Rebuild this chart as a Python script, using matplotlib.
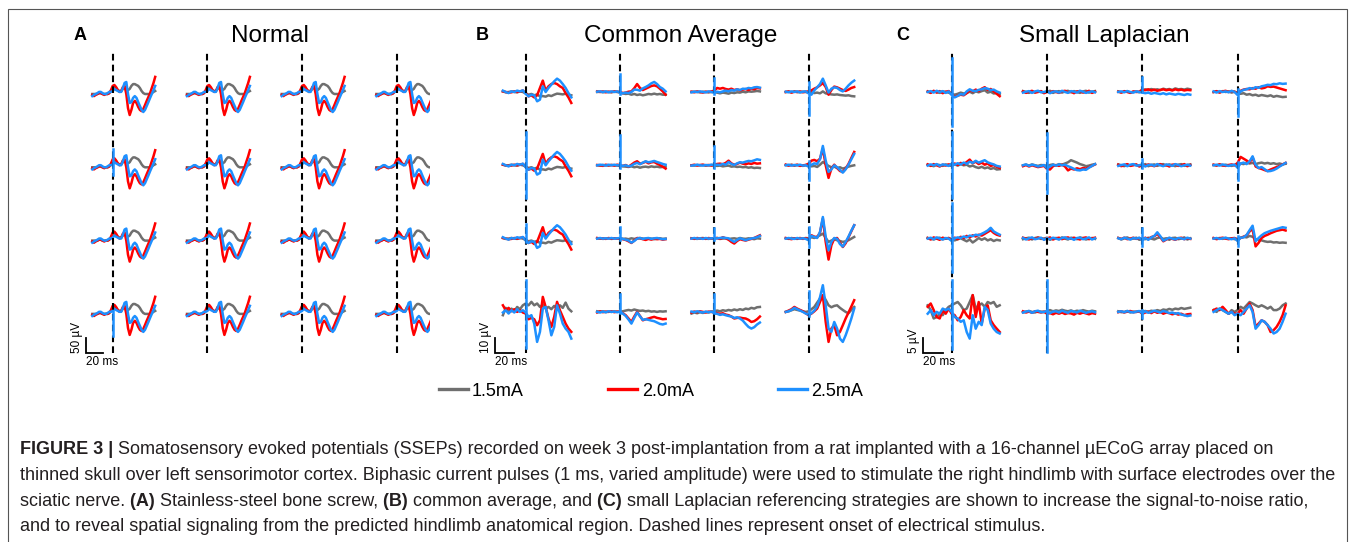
import numpy as np
import matplotlib
matplotlib.use('Agg')
import matplotlib.pyplot as plt
from matplotlib.patches import Rectangle

plt.rcParams['font.family'] = ['Liberation Sans', 'DejaVu Sans']

W, H = 1355, 542
GRAY, RED, BLUE = '#6f6f6f', '#ff0000', '#1e90ff'
COLORS = (GRAY, RED, BLUE)
currents = ['1.5mA', '2.0mA', '2.5mA']

# time from stimulus onset (ms)
t_a = np.arange(-24, 51, 2)
t_bc = np.arange(-24, 49, 3)

# ---- A: Normal (uV), same waveform on all 16 channels
a_gray = [0, 0, 0, 0, 3, 3, 0, 0, 0, 0, 3, 10, 20, 23, 20, 13, 10, 10, 17, 20,
          17, 13, 17, 27, 33, 33, 30, 27, 20, 10, 3, 0, 0, 0, 0, 3, 7, 10]
a_red = [-3, -7, -3, 0, 3, 3, 0, -3, 0, 0, 3, 13, 27, 30, 23, 13, 7, 10, 23, 27,
         0, -47, -70, -53, -30, -23, -30, -43, -53, -57, -50, -37, -23, -10, 3, 20, 37, 57]
a_blue = [-7, -3, 0, 3, 7, 7, 3, 0, 0, 3, 7, 7, 10, 17, 13, 10, 7, 7, 20, 37,
          40, 0, -30, -27, -13, -7, -13, -27, -40, -53, -60, -53, -40, -27, -13, 0, 13, 27]

# ---- B: Common Average (uV)
b11_gray = [0.4, -0.2, 0, 0.4, 0, -0.2, 0.4, 0, -0.9, -1.8, -1.3, -2.2, -1.6, -2.9, -2.7, -3.1, -2.2, -2.7, -1.8, -1.1, -1.3, -1.6, -1.1, -1.8, -2.2]
b11_red = [0.4, 0, -0.4, -0.2, 0.4, 0, 0.4, 0.9, -0.7, -2.9, -2.2, -3.6, -2.2, 2.7, 7.6, 0.9, 3.8, 5.3, 6.0, 5.3, 3.8, 2.7, -0.7, -3.6, -7.3]
b11_blue = [0.9, 0, -0.7, 0.4, 0, 0.9, 0.4, 1.1, -1.3, -2.9, -1.8, -2.2, -6.2, -5.1, 3.8, 0, 2.7, 4.9, 7.1, 8.9, 7.6, 5.3, 2.7, -0.7, -3.6]
b12_gray = [0, 0.2, -0.2, 0.2, 0, -0.2, 0.2, 0, -0.4, -0.9, -1.3, -1.1, -1.8, -1.3, -2.0, -1.6, -2.2, -1.8, -1.3, -1.6, -1.1, -1.6, -1.3, -1.8, -1.8]
b12_red = [0.4, 0, 0.4, -0.2, 0.2, 0, 0.4, 0.2, 0, -0.7, -0.4, 0.2, 0.4, 2.5, 5.3, 2.7, 1.3, 2.2, 3.1, 4.0, 4.4, 3.8, 2.2, 0.4, -1.8]
b12_blue = [0.2, 0.4, 0, 0.4, -0.2, 0.4, 0, 0.4, -0.4, -0.9, -0.4, -0.7, 0, 1.6, 1.5, 0.9, 2.4, 3.3, 4.4, 5.8, 6.7, 5.3, 3.3, 2.2, 0.4]
b13_gray = [0, 0.2, 0, -0.2, 0.2, 0, -0.2, 0, -0.2, -0.4, -0.9, -0.4, -0.7, -1.1, -0.4, -0.7, -0.2, -0.4, 0.2, -0.2, 0.4, 0.2, 0.4, 0.7, 0.4]
b13_red = [0.2, -0.2, 0.4, 0, -0.4, 0.2, 0, 0.4, 0.9, 2.7, 2.2, 2.7, 2.0, 1.6, 2.2, 1.3, 1.8, 1.1, 1.6, 2.0, 1.3, 2.2, 1.8, 2.7, 2.4]
b13_blue = [-0.2, 0.2, 0, 0.4, 0, -0.2, 0.4, 0, -0.4, 0.2, -0.2, 0.4, 0.9, 0.4, 1.3, 0.9, 1.8, 1.3, 2.2, 2.0, 2.7, 2.4, 3.1, 3.3, 2.9]
b14_gray = [0, 0.2, -0.2, 0.4, 0, -0.2, 0.2, 0, -0.4, -0.2, -0.7, -0.4, -0.9, 0.4, -0.9, -1.3, -1.6, -1.8, -1.6, -2.0, -2.2, -2.4, -2.2, -2.7, -2.9]
b14_red = [0, 0.4, -0.4, 0.2, 0, 0.4, -0.2, 0.2, 0.4, 1.1, 2.2, 3.1, 4.4, 6.0, 3.3, -1.8, 1.3, 3.6, 3.1, 2.2, 1.3, 0.7, 1.6, 2.7, 3.3]
b14_blue = [0.2, -0.2, 0.4, 0, 0.4, -0.2, 0.2, 0.4, -0.9, -1.8, 1.1, 3.1, 5.3, 8.9, 4.4, -0.4, 2.2, 3.1, 2.7, 1.3, 0.4, 2.2, 4.4, 6.2, 7.6]
b22_gray = [0, -0.2, 0.2, 0, -0.2, 0.2, 0, -0.2, -0.4, -0.7, -0.9, -1.1, -0.7, -1.3, -0.9, -1.6, -1.1, -0.9, -1.3, -0.7, -1.1, -0.9, -1.3, -1.1, -0.9]
b22_red = [0.2, 0, -0.4, 0.4, 0, 0.2, -0.2, 0.4, 0, -0.4, 0.2, -0.9, 0.4, 1.8, 2.7, 1.1, 1.6, 2.4, 1.3, 2.0, 2.2, 1.1, 0.2, -0.9, -2.2]
b22_blue = [0, 0.4, 0.2, -0.2, 0.4, 0, 0.4, 0, 0.2, -0.4, 0, -0.7, -0.2, 0.9, 1.6, 0.7, 1.8, 2.7, 2.0, 2.4, 2.9, 2.2, 1.6, 0.9, 0.4]
b23_gray = [0, -0.2, 0.2, 0, 0.2, -0.2, 0, 0.2, -0.2, -0.4, -0.2, -0.7, -0.4, -0.2, -0.9, -0.7, -1.1, -0.9, -1.3, -1.1, -1.6, -1.3, -1.8, -1.6, -1.8]
b23_red = [0, 0.4, -0.2, 0.2, 0.4, 0, 0.2, -0.2, 0.4, 0.9, 1.1, 0.7, 1.6, 3.1, 1.3, 0.4, 0.9, 1.8, 1.1, 0.7, 1.3, 0.9, 1.6, 1.1, 1.3]
b23_blue = [-0.2, 0, 0.4, 0, -0.2, 0.2, 0, 0.4, 0.2, 0.4, 0.2, 0.9, 0.4, 2.2, 0.9, 0.2, 1.3, 2.0, 1.8, 2.4, 2.9, 2.7, 3.3, 4.0, 3.6]
b24_gray = [0.2, 0, 0.4, -0.2, 0.2, 0, -0.4, 0.2, 0, -0.7, -0.4, -1.1, 0.4, 2.2, 0.9, -0.4, -1.3, -0.9, -1.8, -1.3, -2.2, -1.6, -0.9, -0.4, 0]
b24_red = [0.4, -0.2, 0.2, 0, 0.4, -0.4, 0, 0.2, 1.1, 3.1, 3.6, 2.7, 4.4, 11.1, 0, -8.4, -2.2, 0.4, -1.8, -3.8, -4.4, -2.2, 0.9, 4.9, 8.9]
b24_blue = [0, 0.4, -0.2, 0.2, 0, 0.4, -0.2, 0, -0.9, 0.4, 1.3, 0.9, 4.0, 12.9, 3.1, -4.4, -2.7, 0, -1.3, -3.1, -4.9, -2.7, 0.4, 4.0, 7.6]
b_flat1 = [0, 0.2, -0.2, 0, 0.2, -0.2, 0, 0.2, 0, -0.2, 0, -0.4, 0.2, -0.2, 0, 0.4, 0, -0.2, 0.2, 0, -0.4, 0, 0.2, -0.2, 0]
b_flat2 = [0.2, 0, -0.2, 0.2, 0.4, 0, -0.2, 0.2, 0, 0.4, -0.2, 0, 0.2, -0.4, 0, 0.2, -0.2, 0.4, 0, -0.2, 0.2, 0, -0.4, 0.2, 0]
b32_red = [0.4, 0, 0.2, -0.2, 0.4, 0, 0.2, 0, 0.2, -0.4, -0.9, -1.8, -2.9, -1.3, 0.4, 0.2, -0.4, -0.9, -0.2, -0.7, 0, -0.4, -0.2, -0.7, -0.4]
b32_blue = [0, 0.4, 0, 0.2, 0, 0.4, 0, 0.2, 0.4, -0.2, -0.7, -1.3, -2.7, -1.6, 0, 0.4, -0.2, 0.2, 0.4, -0.2, 0.2, 0.4, 0, -0.4, -0.2]
b33_red = [0.2, -0.2, 0.4, 0, 0.2, -0.2, 0.4, 0, 0.2, 0.4, -0.2, 0.9, 0.2, -0.7, -2.2, -3.3, -1.6, -0.4, -0.9, -1.3, -0.7, -0.2, 0.4, 1.3, 2.2]
b33_blue = [0, 0.4, 0, 0.2, -0.2, 0.4, 0, 0.2, 0, 0.2, 0.4, 0.7, 0.4, 0.2, -1.1, -2.2, -0.9, 0.2, -0.4, -1.1, -0.4, 0, 0.4, 0.9, 1.8]
b34_gray = [0.2, -0.2, 0.4, 0, -0.2, 0.2, 0, 0.4, 0.2, 0.9, 0.4, 1.3, 2.2, 3.3, 0.4, -2.2, -1.3, -0.4, -1.1, -1.6, -2.2, -1.8, -1.1, 0, 1.1]
b34_red = [0.4, 0, -0.4, 0.2, 0, 0.4, -0.2, 0.2, -0.4, 2.2, 1.3, 0.9, 4.0, 13.3, -2.2, -14.0, -4.4, 0, 0.4, -2.7, -5.6, -3.1, 0.9, 4.9, 8.9]
b34_blue = [0, 0.4, 0, -0.2, 0.4, 0, 0.2, -0.2, -1.1, 1.8, 1.1, 0.4, 4.4, 14.4, 1.3, -7.8, -2.2, 0.4, -0.2, -3.6, -5.3, -2.2, 1.3, 5.3, 8.9]
b41_gray = [-2.2, 2.7, 0, 2.2, 0.4, 3.3, 1.8, 4.4, 5.6, 4.4, 6.7, 4.4, 5.6, 3.3, 4.9, 2.2, 3.3, 1.8, 4.0, 2.2, 4.4, 2.7, 6.2, 2.2, 0.4]
b41_red = [4.4, 1.1, 2.7, 0.4, 1.8, 0, 1.1, -0.4, -1.1, -4.9, -4.0, -4.9, -8.9, -5.6, 10.0, 3.3, -4.4, -10.0, -3.3, 6.7, 1.1, -3.3, -7.8, -11.1, -13.3]
b41_blue = [-0.4, 1.1, -1.1, 1.1, -0.4, 1.8, 0, 1.1, -0.4, -3.3, -2.2, -7.8, -20.0, -13.3, 2.2, 3.3, -5.6, -15.6, -10.0, 4.4, -1.1, -7.8, -11.1, -13.3, -17.8]
b42_gray = [0.4, 0, 0.4, -0.2, 0.2, 0, 0.4, 0, 0.2, 0.4, 0.9, 1.3, 0.9, 1.6, 1.1, 0.7, 0.9, 0.4, 0.7, 0.2, 0.4, 0, 0.4, 0.2, 0.4]
b42_red = [-0.4, 0.4, -0.2, 0.2, 0, 0.4, -0.2, 0.2, 0, -0.9, -2.2, -4.4, -6.7, -3.1, 0, -2.7, -5.6, -4.9, -4.4, -3.8, -3.3, -4.0, -4.4, -4.9, -4.7]
b42_blue = [0, -0.4, 0.2, -0.2, 0.4, 0, 0.2, -0.2, 0.2, -1.1, -2.7, -5.1, -7.8, -4.0, -0.4, -2.9, -5.3, -4.9, -5.3, -5.8, -6.2, -7.1, -8.0, -8.4, -7.8]
b43_gray = [-1.1, -0.4, -0.9, -0.2, -0.7, 0, -0.4, 0.2, 0.4, 0.9, 0.4, 1.1, 0.7, 1.3, 0.9, 1.6, 1.1, 1.8, 1.3, 2.2, 1.8, 2.7, 2.2, 3.1, 3.3]
b43_red = [-0.4, 0.2, -0.2, 0.4, 0, -0.4, 0.2, 0, -0.4, -0.9, -1.3, -0.9, -1.8, -2.2, -3.1, -4.4, -4.0, -3.8, -4.2, -4.4, -5.3, -6.7, -6.2, -4.9, -3.1]
b43_blue = [0.2, -0.2, 0.4, 0, -0.4, 0.2, -0.2, 0.2, -0.9, -1.3, -2.0, -1.6, -2.2, -2.7, -3.1, -4.0, -3.6, -4.4, -5.8, -8.0, -10.0, -11.1, -10.2, -8.4, -7.1]
b44_gray = [0, 0.4, 1.1, 1.8, 1.3, 0.9, 0.4, 0, 0.4, 1.8, 3.3, 6.2, 8.9, 11.1, 8.0, 4.4, 3.1, 4.0, 4.4, 2.7, 1.3, 0, -0.9, 1.3, 3.3]
b44_red = [0, 0.9, 1.8, 3.3, 2.2, 1.3, 0.4, -0.9, -2.2, -1.1, 0.4, 2.2, 6.7, 11.1, -6.7, -20.0, -11.1, -8.9, -15.6, -13.3, -8.9, -4.4, -0.4, 3.6, 7.8]
b44_blue = [0, 0.4, 1.3, 2.7, 1.8, 0.9, 0, -1.1, -1.8, -0.9, 0.9, 3.6, 9.8, 17.8, 4.4, -11.1, -13.3, -6.7, -11.1, -17.8, -20.0, -15.6, -10.2, -4.4, 2.2]

# ---- C: Small Laplacian (uV)
c_flat1 = [0.2, -0.3, 0.1, 0.4, -0.2, 0, 0.3, -0.4, 0.1, -0.2, 0.3, 0, -0.3, 0.2, 0.4, -0.1, 0.1, -0.4, 0.2, 0.3, -0.2, 0, 0.4, -0.3, 0.1]
c_flat2 = [-0.2, 0.1, 0.3, -0.3, 0.2, 0.4, -0.1, 0, 0.3, -0.4, 0.1, 0.2, -0.2, 0.4, 0, -0.3, 0.3, 0.1, -0.2, 0.4, 0.1, -0.3, 0, 0.2, -0.1]
c_flat3 = [0.3, 0, -0.3, 0.2, -0.1, 0.3, 0.1, -0.2, 0, 0.4, -0.3, 0.1, 0.3, -0.2, 0.2, 0.4, -0.1, 0.3, 0, -0.3, 0.2, 0.4, -0.2, 0.1, 0.3]
c11_gray = [0.1, -0.2, 0.3, 0, -0.3, 0.2, 0, -0.2, -0.6, -0.9, -0.6, -0.2, -0.5, -0.3, 0.1, -0.4, 0.2, -0.1, 0.3, 0.6, -0.2, 0.1, -0.5, -0.3, -0.7]
c11_red = [0.2, -0.3, 0.4, -0.2, 0.3, -0.4, 0.1, 0.3, -0.8, -1.6, -1.2, -0.9, -1.1, -0.4, 0.6, 0.2, 0.8, 0.3, 1.1, 1.6, 0.7, 1.0, 0.2, -0.6, -1.4]
c11_blue = [0, 0.3, -0.2, 0.4, 0, 0.3, -0.3, 0.2, -1.0, -1.8, -1.3, -0.7, -0.9, 0.2, 0.9, 0.4, 0.3, 0.7, 0.9, 1.3, 1.1, 0.6, 0.8, 0.2, -0.2]
c13_gray = [0.2, -0.1, 0.1, 0.3, -0.2, 0, 0.2, -0.1, 0.4, 0.9, 0.6, 1.0, 0.7, 0.9, 0.6, 1.1, 0.8, 1.0, 0.7, 1.2, 0.9, 1.0, 0.8, 1.1, 0.9]
c13_red = [0.1, -0.2, 0.3, 0, -0.3, 0.2, 0, 0.1, 0.8, 0.6, 0.9, 0.5, 0.8, 0.4, 0.7, 0.9, 0.6, 0.8, 0.5, 0.9, 0.6, 0.8, 0.5, 0.7, 0.6]
c13_blue = [0, 0.2, -0.1, 0.3, 0, -0.2, 0.2, 0, -0.2, -0.4, -0.2, -0.6, -0.3, -0.5, -0.7, -0.4, -0.8, -0.5, -0.7, -0.9, -0.6, -0.8, -1.0, -0.7, -0.9]
c14_gray = [0, 0.2, -0.1, 0.3, 0, 0.2, -0.2, 0.1, -0.3, -0.6, -0.4, -0.9, -0.7, -1.1, -0.9, -1.3, -1.0, -1.2, -1.4, -1.1, -1.6, -1.3, -1.5, -1.7, -1.6]
c14_red = [0, 0.3, -0.2, 0.2, 0.4, 0, 0.3, 0.1, -0.6, 0.4, 0.8, 1.0, 0.9, 1.3, 1.1, 1.6, 1.2, 1.4, 1.9, 1.7, 1.8, 1.5, 1.2, 0.9, 0.6]
c14_blue = [0.2, -0.2, 0.3, 0, 0.2, -0.1, 0.4, 0, -1.0, 0.2, 0.7, 0.9, 1.3, 1.1, 1.6, 1.4, 1.9, 2.1, 2.4, 2.3, 2.7, 2.6, 2.9, 2.7, 2.8]
c21_gray = [0.2, 0, -0.3, 0.2, 0.1, -0.2, 0.3, 0, -0.2, 0.3, -0.1, 0.4, 0, 0.2, -0.4, -0.1, -0.6, -0.9, -0.5, -1.0, -0.7, -1.2, -0.9, -1.4, -1.3]
c21_red = [0.3, -0.2, 0.4, 0, -0.4, 0.2, -0.1, 0.3, 0.2, 0.6, 0.1, 0.8, 0.3, 1.1, 1.9, 0.7, 1.2, 0.4, 0.9, 0.2, 0.6, -0.2, 0.1, -0.5, -0.9]
c21_blue = [-0.1, 0.3, 0, 0.4, -0.2, 0.3, 0.1, -0.2, 0.5, 0.2, 0.7, 0.3, 0.9, 0.5, 1.2, 0.8, 1.5, 0.9, 1.3, 1.7, 1.0, 0.6, 0.3, -0.2, -0.4]
c22_gray = [0, 0.2, -0.1, 0.3, 0, -0.2, 0.1, 0, -0.2, 0.1, 0.3, -0.1, 0.4, 0.2, 0.6, 1.0, 1.7, 1.3, 0.9, 0.4, 0.1, -0.3, -0.1, 0.2, 0.4]
c22_red = [-0.3, 0.1, -0.4, 0, -0.3, -0.6, -0.4, -0.2, -1.2, -1.4, -0.3, 0.1, -0.2, 0.2, -0.4, -1.7, -1.1, -1.4, -1.0, -1.3, -0.9, -1.1, -0.6, -0.2, 0.3]
c22_blue = [0, 0.3, -0.2, 0.2, 0, -0.4, -0.2, 0.1, -1.0, -0.4, 0.2, -0.1, 0.3, 0, 0.2, -0.3, -0.7, -1.2, -1.6, -1.7, -1.4, -1.5, -0.8, -0.2, 0.4]
c24_gray = [0.1, 0, 0.3, -0.1, 0.2, 0, -0.2, 0.1, 0.3, 0.6, 0.4, 0.9, 0.6, 0.8, 0.4, 0.7, 0.9, 0.6, 0.8, 0.5, 0.7, 0.4, 0.6, 0.3, 0.5]
c24_red = [0.2, -0.1, 0.3, 0, -0.2, 0.1, 0.3, 0, 0.8, 2.8, 2.2, 1.6, 0.9, 2.7, -0.4, -0.9, -1.2, -1.6, -1.9, -1.4, -1.0, -0.6, -0.2, 0.3, 0.8]
c24_blue = [0, 0.2, -0.1, 0.3, 0, -0.2, 0.1, 0.2, -0.8, 0.6, 0.9, 0.4, 1.3, 3.0, 0.2, -0.9, -0.6, -1.3, -2.0, -1.9, -1.6, -1.1, -0.4, 0.2, 0.8]
c31_gray = [0.2, 0, -0.3, 0.1, 0.3, -0.2, 0, 0.2, -0.3, -0.6, -0.2, 0.1, -0.4, -0.9, -0.3, -1.3, -0.6, 0.2, -0.4, 0.1, -0.6, -0.2, -0.8, -0.4, -0.6]
c31_red = [0.2, -0.3, 0.4, 0, -0.4, 0.3, 0, 0.2, -0.4, 0.3, -0.2, 0.6, 0.2, 0.9, 0.4, 1.1, 0.7, 1.3, 1.0, 1.6, 2.2, 2.8, 1.9, 1.3, 1.0]
c31_blue = [0, 0.3, -0.2, 0.4, 0, -0.3, 0.2, 0, -0.8, 0.1, 0.4, 0.2, 0.7, 0.4, 1.0, 0.8, 1.3, 1.1, 1.6, 2.1, 2.7, 3.6, 2.4, 1.8, 1.3]
c33_red = [0.2, -0.1, 0.3, -0.2, 0, 0.3, -0.1, 0.2, -0.4, 0.3, -0.2, 0.5, 0.8, 1.6, 0.5, -0.9, -0.3, 0.2, -0.1, -0.4, 0.1, 0.3, -0.2, 0.1, -0.1]
c33_blue = [0.1, -0.2, 0.3, 0, -0.3, 0.2, 0, 0.3, -0.6, 0.2, -0.4, 0.4, 0.9, 2.1, 0.8, -0.7, -0.2, 0.3, 0, -0.3, 0.2, 0.1, -0.2, 0.3, 0]
c34_gray = [0.1, 0, 0.2, -0.1, 0.2, 0, 0.1, -0.2, 0, 0.3, 0.6, 0.4, 0.9, 0.6, -0.2, -0.4, -0.6, -0.9, -1.1, -1.0, -1.3, -1.2, -1.4, -1.3, -1.4]
c34_red = [0.2, -0.2, 0.1, 0.3, 0, -0.2, 0.1, 0.2, -0.4, 0.2, 0.6, 1.1, 2.4, 3.2, -2.6, -1.4, 0.2, 0.9, 1.3, 1.8, 2.2, 2.6, 2.8, 3.0, 2.7]
c34_blue = [0, 0.2, -0.1, 0.1, 0.3, 0, -0.2, 0.1, -0.8, 0.3, 0.4, 1.2, 2.8, 4.3, -0.9, 0.2, 1.1, 1.8, 2.2, 2.6, 2.9, 3.2, 3.5, 3.8, 3.6]
c41_gray = [2.2, 0.6, -2.2, -1.7, -0.6, -1.1, 0.6, 1.7, 2.2, 2.8, 3.3, 2.2, 0.6, 1.1, 3.3, 5.6, 1.1, 2.2, 2.8, 1.7, 3.3, 2.8, 3.3, 1.7, 2.2]
c41_red = [1.7, 2.8, 0.6, -1.7, -2.2, 0.6, -0.6, 1.1, -0.6, -1.1, -2.8, -1.7, 0.6, -1.1, -2.2, 5.6, -1.7, 3.3, -3.9, 1.1, 2.2, -2.8, -4.4, -5.6, -6.7]
c41_blue = [-0.6, 0.6, -1.1, 0, -0.6, 1.1, 0.6, 1.1, 0, -1.7, -2.2, -3.3, -2.8, -6.7, -8.9, -1.1, -5.6, -3.3, -4.4, 1.7, 0.6, -3.9, -5.6, -6.7, -7.2]
c42_gray = [-0.2, 0.1, 0.3, 0, -0.2, 0.2, 0.1, -0.1, 0.3, 0.6, 0.2, 0.5, 0.3, 0.7, 0.4, 0.2, 0.5, 0.1, 0.4, 0.2, 0.6, 0.3, 0.1, 0.4, 0.2]
c42_red = [0.2, -0.2, 0.1, -0.3, 0.2, 0, -0.2, 0.1, -0.6, -0.4, -0.8, -0.3, -0.6, -0.2, -0.7, -0.4, -0.5, -0.9, -0.3, -0.6, -0.2, -0.5, -0.8, -0.4, -0.6]
c43_gray = [0.2, -0.1, 0, 0.3, -0.2, 0.1, 0, 0.2, 0.1, 0.3, 0, 0.4, 0.2, 0.6, 0.3, 0.8, 0.6, 1.0, 0.7, 1.1, 0.9, 1.3, 1.0, 1.2, 1.4]
c43_red = [-0.1, 0.2, -0.2, 0.1, 0.3, -0.1, 0, 0.2, -0.6, -0.2, 0.1, -0.4, 0.2, -0.3, 0, -0.6, -0.2, -0.4, -0.8, -0.5, -0.9, -0.6, -1.1, -0.8, -0.7]
c43_blue = [0, 0.2, -0.1, 0.3, 0, -0.2, 0.1, 0.3, -0.4, 0.2, -0.3, 0, 0.4, 0.1, -0.2, 0.3, 0, -0.4, -0.2, -0.6, -0.4, -0.9, -1.1, -1.4, -1.2]
c44_gray = [0.6, 0, 1.1, 0.6, 0, -0.6, 0.6, 0, 0.6, 1.7, 1.1, 2.2, 3.3, 2.8, 2.2, 1.7, 2.2, 1.7, 1.1, 1.7, 0.6, 0.6, 1.1, 2.2, 2.8]
c44_red = [0.6, 1.1, 0.6, 1.7, 0.6, -0.6, 0, -0.6, -0.6, 0.6, -0.6, 1.1, 2.8, 0.6, -5.0, -3.9, -2.8, -3.3, -4.4, -6.7, -6.1, -5.0, -3.3, -1.1, 2.2]
c44_blue = [0, 0.6, 1.1, 0.6, 0, -0.6, 0, -1.1, -0.6, -1.1, 0, 1.1, 2.2, 0, -5.6, -4.4, -2.8, -3.3, -4.4, -5.6, -7.2, -6.7, -5.6, -3.3, -0.6]

# (row, col) -> (1.5mA, 2.0mA, 2.5mA)
a_cells = {(r, c): (a_gray, a_red, a_blue) for r in range(4) for c in range(4)}
b_cells = {
    (0, 0): (b11_gray, b11_red, b11_blue), (0, 1): (b12_gray, b12_red, b12_blue),
    (0, 2): (b13_gray, b13_red, b13_blue), (0, 3): (b14_gray, b14_red, b14_blue),
    (1, 0): (b11_gray, b11_red, b11_blue), (1, 1): (b22_gray, b22_red, b22_blue),
    (1, 2): (b23_gray, b23_red, b23_blue), (1, 3): (b24_gray, b24_red, b24_blue),
    (2, 0): (b11_gray, b11_red, b11_blue), (2, 1): (b_flat1, b32_red, b32_blue),
    (2, 2): (b_flat2, b33_red, b33_blue), (2, 3): (b34_gray, b34_red, b34_blue),
    (3, 0): (b41_gray, b41_red, b41_blue), (3, 1): (b42_gray, b42_red, b42_blue),
    (3, 2): (b43_gray, b43_red, b43_blue), (3, 3): (b44_gray, b44_red, b44_blue),
}
c_cells = {
    (0, 0): (c11_gray, c11_red, c11_blue), (0, 1): (c_flat3, c_flat1, c_flat2),
    (0, 2): (c13_gray, c13_red, c13_blue), (0, 3): (c14_gray, c14_red, c14_blue),
    (1, 0): (c21_gray, c21_red, c21_blue), (1, 1): (c22_gray, c22_red, c22_blue),
    (1, 2): (c_flat3, c_flat1, c_flat2), (1, 3): (c24_gray, c24_red, c24_blue),
    (2, 0): (c31_gray, c31_red, c31_blue), (2, 1): (c_flat2, c_flat3, c_flat1),
    (2, 2): (c_flat1, c33_red, c33_blue), (2, 3): (c34_gray, c34_red, c34_blue),
    (3, 0): (c41_gray, c41_red, c41_blue), (3, 1): (c42_gray, c42_red, c_flat2),
    (3, 2): (c43_gray, c43_red, c43_blue), (3, 3): (c44_gray, c44_red, c44_blue),
}

# stimulus artifacts at t=0: (low, high) in uV
a_spikes = {(1, 0): (-27, 60), (3, 0): (-73, 10)}
b_spikes = {(0, 1): (-1, 12), (0, 2): (-1, 9.5), (0, 3): (-15, 7), (1, 0): (-22, 22),
            (1, 1): (-2, 20), (1, 2): (-2, 13), (1, 3): (-10, 3), (2, 0): (-2, 10),
            (2, 1): (-1, 8), (2, 2): (-1, 7), (2, 3): (-5.6, 7.8), (3, 0): (-24, 21),
            (3, 1): (-1, 12), (3, 2): (-1, 12), (3, 3): (-3, 14)}
c_spikes = {(0, 0): (-11.4, 11.3), (0, 2): (0, 5), (0, 3): (-8, 1), (1, 0): (-11, 11),
            (1, 1): (-9.2, 10.8), (1, 2): (-1, 2), (1, 3): (-4.8, 1), (2, 0): (-11, 12),
            (2, 2): (-2.6, 3.6), (2, 3): (-2.5, 1), (3, 0): (-12.2, 10.6),
            (3, 1): (-13.3, 10.6), (3, 2): (-2, 0.5)}

fig = plt.figure(figsize=(W / 100, H / 100), dpi=100)


def draw_panel(box, dash_x, base_y, col_px, row_px, px_ms, px_uv, t, cells, spikes,
               bar_x, bar_uv, bar_lbl):
    l, top, r, bot = box
    ax = fig.add_axes([l / W, 1 - bot / H, (r - l) / W, (bot - top) / H])
    ax.set_xlim((l - dash_x) / px_ms, (r - dash_x) / px_ms)
    ax.set_ylim((base_y - bot) / px_uv, (base_y - top) / px_uv)
    ax.set_axis_off()
    dx, dy = col_px / px_ms, row_px / px_uv
    for (row, col), traces in cells.items():
        for vals, color, z in zip(traces, COLORS, (2, 2.1, 2.2)):
            ax.plot(t + col * dx, np.asarray(vals) - row * dy, color=color, lw=1.8,
                    zorder=z, solid_joinstyle='round')
    for (row, col), (lo, hi) in spikes.items():
        ax.plot([col * dx, col * dx], [lo - row * dy, hi - row * dy], color=BLUE,
                lw=1.8, zorder=4)
    y_top = (base_y - 53) / px_uv
    y_bot = (base_y - 353) / px_uv
    for col in range(4):
        ax.plot([col * dx] * 2, [y_bot, y_top], color='k', lw=1.5,
                ls=(0, (3.2, 2.0)), zorder=3)
    x0 = (bar_x - dash_x) / px_ms
    ax.plot([x0, x0, x0 + 20], [y_bot + bar_uv, y_bot, y_bot], color='k', lw=1.3,
            zorder=3, solid_joinstyle='miter')
    ax.text(x0 - 3 / px_ms, y_bot, bar_lbl, rotation=90, ha='right', va='bottom',
            fontsize=8.5)
    ax.text(x0, y_bot - 3 / px_uv, '20 ms', ha='left', va='top', fontsize=8.5)
    return ax


draw_panel((60, 45, 430, 380), 112.7, 94, 94.7, 73.3, 0.85, 0.3, t_a, a_cells,
           a_spikes, 86, 50, '50 \u00b5V')
draw_panel((470, 45, 880, 380), 525.7, 92, 94.3, 73.3, 0.95, 1.5, t_bc, b_cells,
           b_spikes, 495, 10, '10 \u00b5V')
draw_panel((890, 45, 1300, 380), 951.7, 92, 95.3, 73.3, 1.0, 3.0, t_bc, c_cells,
           c_spikes, 923, 5, '5 \u00b5V')

# panel letters and titles
for letter, lx, title, tx in (('A', 74, 'Normal', 270), ('B', 476, 'Common Average', 681),
                              ('C', 896, 'Small Laplacian', 1104)):
    fig.text(lx / W, 1 - 35 / H, letter, fontsize=13, fontweight='bold',
             ha='left', va='center')
    fig.text(tx / W, 1 - 36 / H, title, fontsize=17.5, ha='center', va='center')

# legend
handles = [plt.Line2D([], [], color=c, lw=2.4) for c in COLORS]
fig.legend(handles, currents, loc='center', bbox_to_anchor=(651 / W, 1 - 391 / H),
           ncol=3, frameon=False, fontsize=13, handlelength=1.6, handletextpad=0.25,
           columnspacing=4.67)

# caption
renderer = fig.canvas.get_renderer()
caption = [
    [('FIGURE 3 |', True), (' Somatosensory evoked potentials (SSEPs) recorded on week 3 '
     'post-implantation from a rat implanted with a 16-channel \u00b5ECoG array placed on', False)],
    [('thinned skull over left sensorimotor cortex. Biphasic current pulses (1 ms, varied '
      'amplitude) were used to stimulate the right hindlimb with surface electrodes over the', False)],
    [('sciatic nerve.', False), (' (A)', True), (' Stainless-steel bone screw,', False),
     (' (B)', True), (' common average, and', False), (' (C)', True),
     (' small Laplacian referencing strategies are shown to increase the signal-to-noise ratio,', False)],
    [('and to reveal spatial signaling from the predicted hindlimb anatomical region. '
      'Dashed lines represent onset of electrical stimulus.', False)],
]
cap_x0, cap_x1 = 20, 1340
probe = fig.text(0, 0, caption[1][0][0], fontsize=10)
cap_size = 10 * (cap_x1 - cap_x0) / probe.get_window_extent(renderer).width
probe.remove()

for i, parts in enumerate(caption):
    x = cap_x0
    y = 454 + i * 25.8
    for s, bold in parts:
        txt = fig.text(x / W, 1 - y / H, s, fontsize=cap_size, color='#231f20',
                       fontweight='bold' if bold else 'normal', ha='left', va='baseline')
        x += txt.get_window_extent(renderer).width

fig.patches.append(Rectangle((8 / W, -0.1), 1339 / W, 1.1 - 9 / H, transform=fig.transFigure,
                             fill=False, edgecolor='#555555', lw=0.8))

fig.savefig('out.png', dpi=100)
